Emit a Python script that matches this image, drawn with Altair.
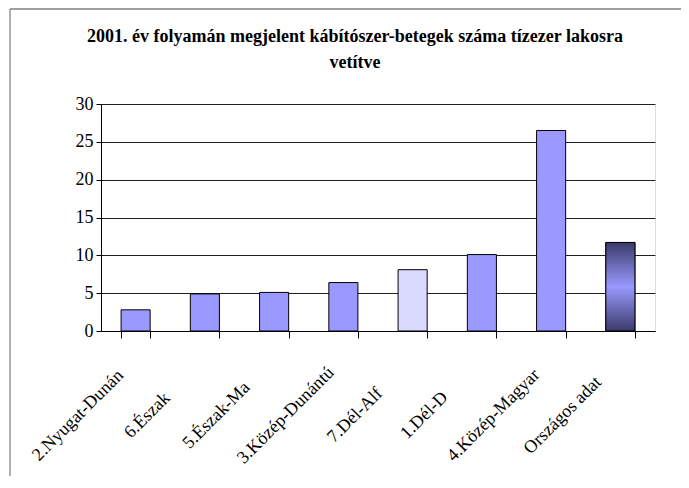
import altair as alt
import pandas as pd

categories = ["2.Nyugat-Dunán", "6.Észak", "5.Észak-Ma", "3.Közép-Dunántú",
              "7.Dél-Alf", "1.Dél-D", "4.Közép-Magyar", "Országos adat"]
values = [2.8, 4.9, 5.1, 6.4, 8.1, 10.1, 26.5, 11.7]
y_ticks = [0, 5, 10, 15, 20, 25, 30]
title_lines = ["2001. év folyamán megjelent kábítószer-betegek száma tízezer lakosra", "vetítve"]

bar_colors = ["#9999FF", "#9999FF", "#9999FF", "#9999FF", "#DADAFF", "#9999FF", "#9999FF", "#9999FF"]

df = pd.DataFrame({"cat": categories, "val": values})

FONT = "'Liberation Serif', 'Times New Roman', serif"

x_enc = alt.X("cat:N", sort=categories, title=None,
              scale=alt.Scale(paddingInner=0.58, paddingOuter=0.29),
              axis=alt.Axis(labelAngle=-45, labelAlign="center", labelBaseline="middle",
                            labelPadding=77, labelOffset=-58, labelFont=FONT, labelFontSize=18,
                            labelColor="#000", tickBand="extent", tickSize=7,
                            tickColor="#000", domainColor="#000", labelLimit=300,
                            labelOverlap=False))
y_enc = alt.Y("val:Q", title=None,
              scale=alt.Scale(domain=[0, 30], nice=False),
              axis=alt.Axis(values=y_ticks, labelFont=FONT, labelFontSize=18,
                            labelColor="#000", tickSize=5, tickColor="#000",
                            domainColor="#000", labelPadding=3, grid=True,
                            gridColor="#202020", gridWidth=1, labelOverlap=False))

base = alt.Chart(df)

bars = base.mark_bar(stroke="#000", strokeWidth=1).encode(
    x=x_enc, y=y_enc,
    color=alt.Color("cat:N", scale=alt.Scale(domain=categories, range=bar_colors), legend=None),
)

grad = alt.LinearGradient(
    gradient="linear", x1=0, x2=0, y1=0, y2=1,
    stops=[alt.GradientStop(color="#3A3A6A", offset=0),
           alt.GradientStop(color="#9999FF", offset=0.5),
           alt.GradientStop(color="#3A3A6A", offset=1)])

last_bar = base.mark_bar(color=grad, stroke="#000", strokeWidth=1).encode(
    x=x_enc, y=y_enc
).transform_filter(alt.datum.cat == categories[-1])

frame_left = alt.Chart().mark_rule(color="#606060", strokeWidth=1).encode(
    x=alt.value(-91), y=alt.value(-95), y2=alt.value(400))
frame_top = alt.Chart().mark_rule(color="#808080", strokeWidth=1.5).encode(
    x=alt.value(-91), x2=alt.value(590), y=alt.value(-95))

chart = alt.layer(bars, last_bar, frame_left, frame_top).properties(
    width=554, height=227,
    title=alt.Title(title_lines, font=FONT, fontSize=18, fontWeight="bold",
                    color="#000", anchor="middle", dx=-23, offset=0, dy=64,
                    lineHeight=26, frame="group"),
    autosize=alt.AutoSizeParams(type="none"),
    padding={"left": 93, "top": 96, "right": 26, "bottom": 145},
).configure_view(fill="#C0C0C0", stroke="#808080", strokeWidth=1.5
).configure(background="white")

chart.save("out.html", embed_options={"renderer": "svg", "actions": False})
